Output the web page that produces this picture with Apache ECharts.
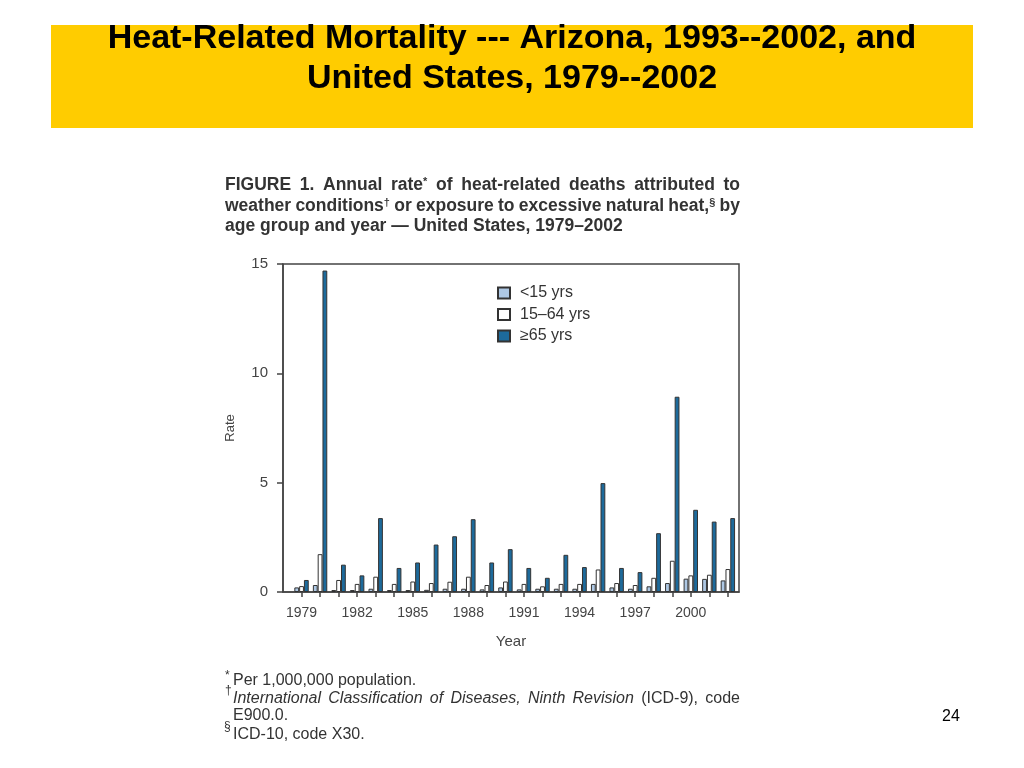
<!DOCTYPE html>
<html><head><meta charset="utf-8">
<script src="https://cdn.jsdelivr.net/npm/echarts@6/dist/echarts.min.js"></script>
<style>html,body{margin:0;padding:0;background:#fff}#c{width:1024px;height:768px}</style>
</head><body><div id="c"></div>
<script>
const years = [1979,1980,1981,1982,1983,1984,1985,1986,1987,1988,1989,1990,1991,1992,1993,1994,1995,1996,1997,1998,1999,2000,2001,2002];
const under15 = [0.21,0.32,0.09,0.09,0.15,0.09,0.09,0.10,0.15,0.15,0.12,0.21,0.12,0.15,0.15,0.15,0.37,0.21,0.15,0.26,0.41,0.61,0.60,0.53];
const age15to64 = [0.27,1.73,0.55,0.37,0.70,0.37,0.48,0.41,0.47,0.70,0.32,0.48,0.37,0.26,0.37,0.37,1.03,0.41,0.32,0.65,1.43,0.76,0.79,1.05];
const age65plus = [0.55,14.7,1.25,0.76,3.38,1.10,1.35,2.17,2.55,3.33,1.35,1.96,1.10,0.65,1.70,1.14,4.98,1.10,0.91,2.69,8.93,3.76,3.22,3.38];
const xTickLabels = [1979,1982,1985,1988,1991,1994,1997,2000];
const seriesNames = ['<15 yrs','15\u201364 yrs','\u226565 yrs'];

const FONT = '"Liberation Sans", Arial, Helvetica, sans-serif';
const chart = echarts.init(document.getElementById('c'), null, {renderer:'canvas'});
const pair = arr => years.map((y,i)=>[y, arr[i]]);
const barStyle = c => ({color:c, borderColor:'#333', borderWidth:1});

const txt = (x,y,text,opt) => ({type:'text', x, y, silent:true, style:Object.assign({text, fill:'#333', fontFamily:FONT, fontSize:16, verticalAlign:'middle', align:'left'}, opt||{})});

// justified text line: words = [[ [text, tokenName|null], ... ], ...]
const mctx = document.createElement('canvas').getContext('2d');
function mw(t, st){ mctx.font = (st.fontStyle||'normal')+' '+(st.fontWeight||'normal')+' '+st.fontSize+'px '+FONT; return mctx.measureText(t).width; }
function justified(x, y, words, target, base, rich){
  let natural = 0;
  words.forEach(w => w.forEach(([t,tok]) => { natural += mw(t, tok ? rich[tok] : base); }));
  const gap = Math.max(2, (target - natural) / (words.length - 1));
  const r = {g:{width:gap, fontSize:base.fontSize, fontFamily:FONT}};
  Object.keys(rich).forEach(k => r[k] = Object.assign({fontFamily:FONT, fill:base.fill||'#333'}, rich[k]));
  const str = words.map(w => w.map(([t,tok]) => tok ? '{'+tok+'|'+t+'}' : t).join('')).join('{g| }');
  return txt(x, y, str, Object.assign({}, base, {rich:r}));
}
const W = s => s.split(' ').map(w => [[w,null]]);
const capBase = {fontSize:17.5, fontWeight:'bold', fill:'#333'};
const capRich = {s:{fontSize:11, fontWeight:'bold', verticalAlign:'top'}};
const capLine1 = [...W('FIGURE 1. Annual'), [['rate',null],['*','s']], ...W('of heat-related deaths attributed to')];
const capLine2 = [...W('weather'), [['conditions',null],['\u2020','s']], ...W('or exposure to excessive natural'), [['heat,',null],['\u00a7','s']], ...W('by')];
const fnBase = {fontSize:16, fill:'#333'};
const fnRich = {i:{fontSize:16, fontStyle:'italic'}};
const fnLine2 = [...'International Classification of Diseases, Ninth Revision'.split(' ').map(w=>[[w,'i']]), ...W('(ICD-9), code')];

chart.setOption({
  animation:false,
  backgroundColor:'#fff',
  textStyle:{fontFamily:FONT},
  grid:{left:283, right:285, top:264, bottom:176, show:true, borderColor:'#444', borderWidth:1.5, backgroundColor:'transparent'},
  legend:{orient:'vertical', left:497, top:285, padding:0, itemWidth:12, itemHeight:11, itemGap:5.5, icon:'rect',
    textStyle:{fontSize:16, color:'#333', fontFamily:FONT, padding:[0,0,0,5]}, data:seriesNames},
  xAxis:{type:'value', min:1978, max:2002.6,
    axisLine:{show:true, lineStyle:{color:'#444', width:1.5}},
    axisTick:{show:true, length:5, customValues:years, lineStyle:{color:'#444', width:1.5}},
    axisLabel:{customValues:xTickLabels, margin:14, fontSize:14, color:'#444', formatter:v=>String(v)},
    splitLine:{show:false},
    name:'Year', nameLocation:'middle', nameGap:42, nameTextStyle:{fontSize:15, color:'#444'}},
  yAxis:{type:'value', min:0, max:15, interval:5,
    axisLine:{show:true, lineStyle:{color:'#444', width:1.5}},
    axisTick:{show:true, length:6, lineStyle:{color:'#444', width:1.5}},
    axisLabel:{margin:15, fontSize:15, color:'#444'},
    splitLine:{show:false},
    name:'Rate', nameLocation:'middle', nameGap:46, nameRotate:90, nameTextStyle:{fontSize:13, color:'#444'}},
  series:[
    {name:seriesNames[0], type:'bar', barWidth:4.8, barGap:'0%', data:pair(under15), itemStyle:barStyle('#aec8e4')},
    {name:seriesNames[1], type:'bar', barWidth:4.8, barGap:'0%', data:pair(age15to64), itemStyle:barStyle('#ffffff')},
    {name:seriesNames[2], type:'bar', barWidth:4.8, barGap:'0%', data:pair(age65plus), itemStyle:barStyle('#1d6a9b')}
  ],
  graphic:[
    {type:'rect', silent:true, z:-10, shape:{x:51, y:25, width:922, height:103}, style:{fill:'#ffcc00'}},
    txt(512,19,'Heat-Related Mortality --- Arizona, 1993--2002, and\nUnited States, 1979--2002',
      {fill:'#000', fontSize:34, fontWeight:'bold', align:'center', verticalAlign:'top', lineHeight:40}),
    justified(225,185,capLine1,515,capBase,capRich),
    justified(225,206,capLine2,515,capBase,capRich),
    txt(225,226,'age group and year \u2014 United States, 1979\u20132002', capBase),
    txt(225,676,'*', {fontSize:12}),
    txt(233,681,'Per 1,000,000 population.'),
    txt(225,691,'\u2020', {fontSize:12}),
    justified(233,699,fnLine2,507,fnBase,fnRich),
    txt(233,716,'E900.0.'),
    txt(224,727,'\u00a7', {fontSize:12}),
    txt(233,735,'ICD-10, code X30.'),
    txt(951,717,'24', {fill:'#000', align:'center'})
  ]
});
</script></body></html>
